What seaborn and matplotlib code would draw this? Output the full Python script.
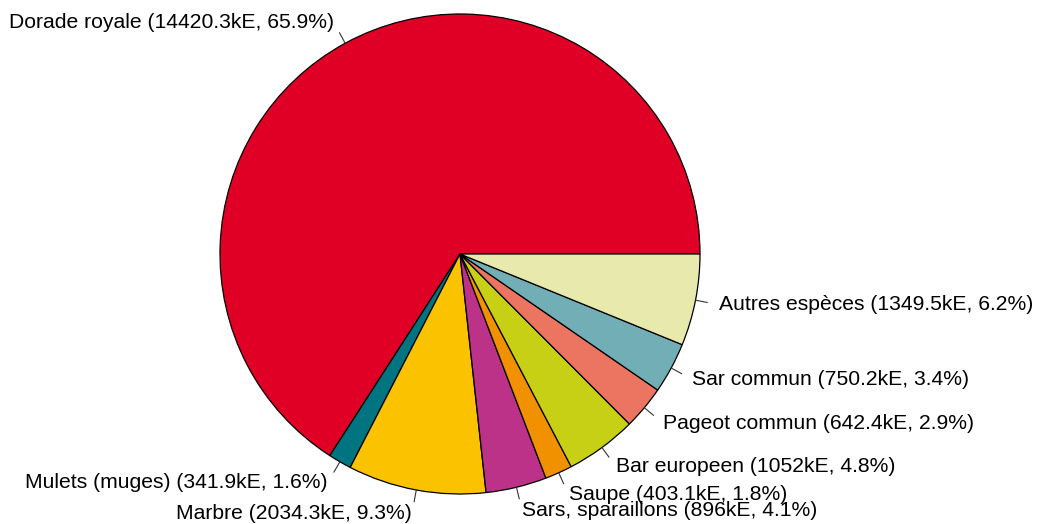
import numpy as np
import matplotlib
matplotlib.use("Agg")
import matplotlib.pyplot as plt
import seaborn as sns

species = ["Dorade royale", "Mulets (muges)", "Marbre", "Sars, sparaillons", "Saupe",
           "Bar europeen", "Pageot commun", "Sar commun", "Autres espèces"]
values = [14420.3, 341.9, 2034.3, 896, 403.1, 1052, 642.4, 750.2, 1349.5]
value_labels = ["14420.3", "341.9", "2034.3", "896", "403.1", "1052", "642.4", "750.2", "1349.5"]
pct_labels = ["65.9", "1.6", "9.3", "4.1", "1.8", "4.8", "2.9", "3.4", "6.2"]
colors_hex = ["#E00026", "#007480", "#FBC200", "#BC3288", "#F29100",
              "#C8D015", "#EB7560", "#72AEB6", "#E8E9AC"]

sns.set_theme(style="white")
plt.rcParams['font.family'] = ['Liberation Sans', 'DejaVu Sans']
palette = sns.color_palette(colors_hex)

W, H = 1048, 524
fig = plt.figure(figsize=(W / 100, H / 100), dpi=100)
ax = fig.add_axes([0, 0, 1, 1])
cx, cy, R = 460, 254, 240

labels = [f"{s} ({v}kE, {p}%)" for s, v, p in zip(species, value_labels, pct_labels)]
wedges, _ = ax.pie(values, colors=palette, startangle=0, counterclock=True,
                   wedgeprops=dict(edgecolor="black", linewidth=0.9),
                   radius=1.0, center=(0, 0), frame=True)
ax.set_xlim(-cx / R, (W - cx) / R)
ax.set_ylim(-(H - cy) / R, cy / R)
ax.set_aspect("auto")
ax.axis("off")

for w, lab in zip(wedges, labels):
    ang = np.deg2rad((w.theta1 + w.theta2) / 2)
    c, s = np.cos(ang), np.sin(ang)
    ax.plot([c, 1.05 * c], [s, 1.05 * s], color="#333333", lw=0.8)
    ax.text(1.1 * c, 1.1 * s, lab, ha="left" if c > 0 else "right", va="center",
            fontsize=15.2, color="black")

fig.savefig("out.png", dpi=100)
